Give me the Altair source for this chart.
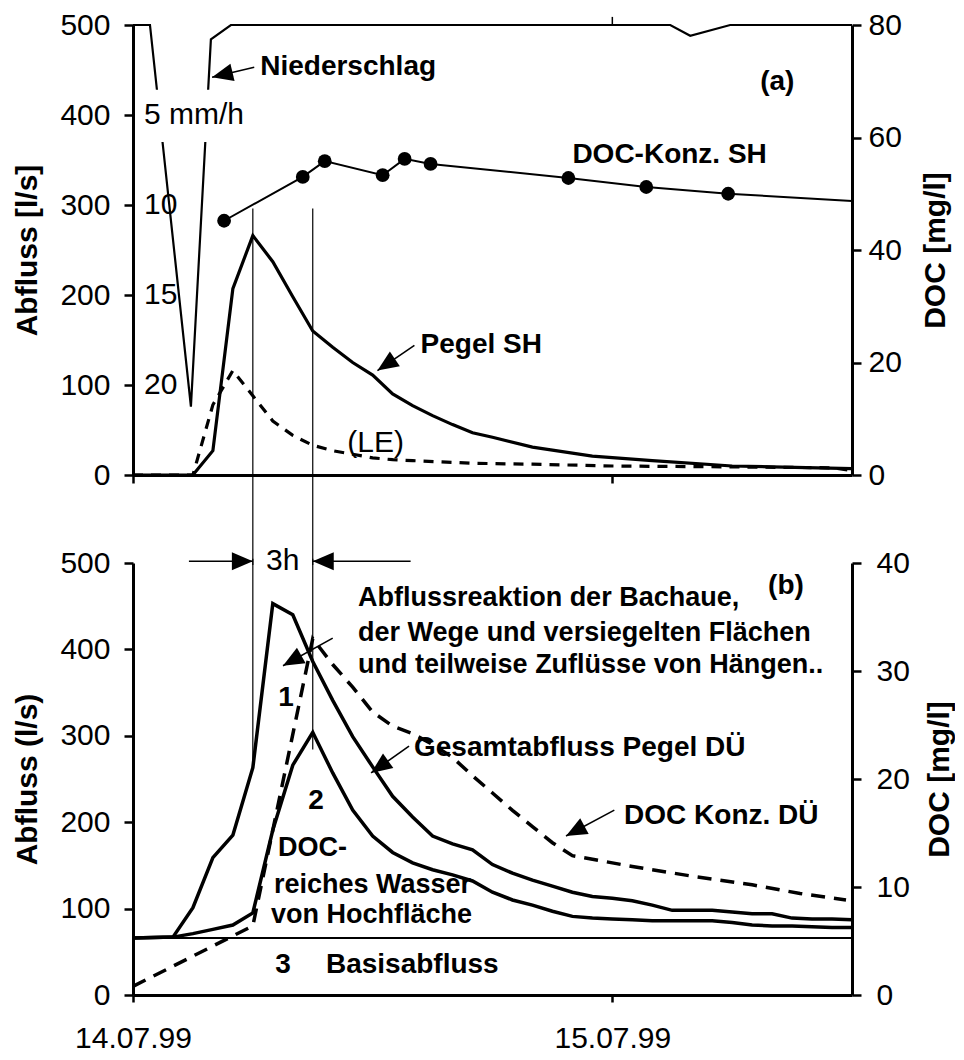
import altair as alt
import pandas as pd

BASE = pd.Timestamp("1999-07-14 00:00:00")


def to_time(hours):
    return [BASE + pd.Timedelta(hours=float(h)) for h in hours]


FONT = "Liberation Sans"

# ---------------- panel (a) data ----------------
pegel_sh_h = [0, 3, 4, 5, 6, 7, 8, 9, 10, 11, 12, 13, 14, 15, 16, 17, 18, 20, 23, 26, 30, 32, 36]
pegel_sh_v = [0, 0, 27, 207, 266, 237, 198, 160, 142, 125, 111, 90, 77, 66, 56, 47, 42, 31, 21, 16, 10, 9, 7]

le_h = [0, 3, 4, 5, 6, 7, 8, 9, 10, 11, 12, 13, 14, 17, 20, 24, 30, 35, 36]
le_v = [0, 0, 78, 116, 88, 60, 44, 33, 27, 23, 19, 17, 16, 13, 12, 10, 9, 8, 5]

doc_sh_h = [4.56, 8.5, 9.6, 12.5, 13.6, 14.9, 21.8, 25.7, 29.8, 36]
doc_sh_v = [45.2, 53.0, 55.8, 53.3, 56.2, 55.3, 52.8, 51.2, 50.0, 48.7]
doc_sh_marker = [True, True, True, True, True, True, True, True, True, False]

precip_h = [0, 0.85, 2.9, 3.9, 4.9, 26.9, 27.9, 29.9, 36]
precip_v = [0, 0, 21.2, 0.8, 0, 0, 0.6, 0, 0]
precip_ticks = [5, 10, 15, 20]
precip_tick_labels = ["5 mm/h", "10", "15", "20"]
precip_top_tick_h = [24]

a_bold_labels = ["Niederschlag", "Pegel SH", "DOC-Konz. SH", "(a)"]
a_bold_h = [6.37, 14.4, 22.0, 31.4]
a_bold_v = [453, 144, 356, 437]
a_plain_labels = ["(LE)"]
a_plain_h = [10.73]
a_plain_v = [36]

a_arrow_tail_h = [6.07, 14.09]
a_arrow_tail_v = [453, 144]
a_arrow_tip_h = [3.96, 12.24]
a_arrow_tip_v = [442, 116]
a_arrow_angle = [256.6, 236]

vline_h = [6, 9]
vline_a_top = [296, 296]
vline_a_bottom = [-100, -100]
vline_b_top = [505, 505]
vline_b_bottom = [268, 284]

# ---------------- panel (b) data ----------------
ges_h = [0, 2, 3, 4, 5, 6, 7, 8, 9, 10, 11, 12, 13, 14, 15, 16, 17, 18, 19, 20, 21, 22, 23, 24,
         25, 26, 27, 28, 29, 30, 31, 32, 33, 34, 35, 36]
ges_v = [66, 67, 101, 159, 185, 263, 453, 440, 386, 341, 299, 264, 230, 206, 184, 175, 168, 151, 141, 133, 126, 119,
         114, 112, 109, 104, 98, 98, 98, 96, 94, 94, 89, 88, 88, 87]

hoch_h = [0, 2, 3, 4, 5, 6, 7, 8, 9, 10, 11, 12, 13, 14, 15, 16, 17, 18, 19, 20, 21, 22, 23, 24,
          25, 26, 27, 28, 29, 30, 31, 32, 33, 34, 35, 36]
hoch_v = [66, 67, 71, 76, 81, 95, 191, 266, 304, 257, 214, 184, 165, 153, 145, 139, 132, 119, 110, 104, 97, 91,
          89, 88, 87, 86, 86, 86, 86, 84, 81, 80, 80, 79, 78, 78]

basis_h = [0, 36]
basis_v = [66, 66]

doc_du_h = [0, 6, 9, 10, 11, 12, 13, 14, 15, 16, 17, 18, 19, 20, 21, 22, 25, 28, 31, 33.4, 35.7]
doc_du_v = [0.8, 6.4, 33.0, 30.6, 28.5, 26.2, 24.9, 24.2, 23.2, 22.0, 20.3, 18.7, 17.1, 15.6, 14.1, 12.9, 11.9,
            11.0, 10.2, 9.4, 8.8]

b_bold_labels = ["(b)", "Gesamtabfluss Pegel DÜ", "Basisabfluss", "DOC Konz. DÜ"]
b_bold_h = [31.8, 14.07, 9.66, 24.59]
b_bold_v = [473, 286, 35, 207]

b_note_labels = ["Abflussreaktion der Bachaue,", "der Wege und versiegelten Flächen",
                 "und teilweise Zuflüsse von Hängen..", "DOC-", "reiches Wasser", "von Hochfläche"]
b_note_h = [11.27, 11.27, 11.27, 7.26, 7.06, 6.91]
b_note_v = [459.5, 419, 382, 170, 127, 92.6]

b_num_labels = ["1", "2", "3"]
b_num_h = [7.66, 9.16, 7.51]
b_num_v = [344, 225, 35]

b_plain_labels = ["3h"]
b_plain_h = [7.5]
b_plain_v = [502]

b_arrow_tail_h = [10.0, 13.82, 24.1, 2.8, 13.9]
b_arrow_tail_v = [413, 288, 214, 502, 502]
b_arrow_tip_h = [7.51, 11.92, 21.68, 6.0, 9.0]
b_arrow_tip_v = [381, 257, 184, 502, 502]
b_arrow_angle = [240.8, 234.6, 241.6, 90, 270]

# ---------------- scales / axes ----------------
x_domain = [alt.DateTime(year=1999, month=7, date=14, hours=0),
            alt.DateTime(year=1999, month=7, date=15, hours=12)]
x_ticks = [alt.DateTime(year=1999, month=7, date=14), alt.DateTime(year=1999, month=7, date=15)]
x_scale = alt.Scale(domain=x_domain)

xa_axis = alt.Axis(values=x_ticks, labels=False, tickSize=8, title=None)
xb_axis = alt.Axis(values=x_ticks, format="%d.%m.%y", tickSize=7, labelPadding=21, title=None,
                   labelFlush=False)

ya_scale = alt.Scale(domain=[0, 500])
ya_axis = alt.Axis(values=[0, 100, 200, 300, 400, 500], orient="left", title="Abfluss [l/s]",
                   tickSize=9, labelPadding=14, titlePadding=17)
ra_scale = alt.Scale(domain=[0, 80])
ra_axis = alt.Axis(values=[0, 20, 40, 60, 80], orient="right", title="DOC [mg/l]", titleAngle=270,
                   tickSize=9, labelPadding=7, titlePadding=49)
p_scale = alt.Scale(domain=[0, 25], reverse=True)

yb_scale = alt.Scale(domain=[0, 500])
yb_axis = alt.Axis(values=[0, 100, 200, 300, 400, 500], orient="left", title="Abfluss (l/s)",
                   tickSize=9, labelPadding=14, titlePadding=17)
rb_scale = alt.Scale(domain=[0, 40])
rb_axis = alt.Axis(values=[0, 10, 20, 30, 40], orient="right", title="DOC [mg/l]", titleAngle=270,
                   tickSize=9, labelPadding=15, titlePadding=45)

ARROW_SHAPE = "M0,0L-0.85,2L0.85,2Z"


def X(field, axis):
    return alt.X(f"{field}:T", scale=x_scale, axis=axis)


def Y(field, scale, axis):
    return alt.Y(f"{field}:Q", scale=scale, axis=axis)


def line_layer(h, v, xaxis, yscale, yaxis, width, dash=None):
    df = pd.DataFrame({"t": to_time(h), "v": v})
    kw = dict(color="black", strokeWidth=width, interpolate="linear")
    if dash is not None:
        kw["strokeDash"] = dash
    return alt.Chart(df).mark_line(**kw).encode(x=X("t", xaxis), y=Y("v", yscale, yaxis))


def text_layer(labels, h, v, xaxis, yscale, yaxis, size, weight="bold", align="left"):
    df = pd.DataFrame({"t": to_time(h), "v": v, "label": labels})
    return alt.Chart(df).mark_text(align=align, baseline="middle", font=FONT, fontSize=size,
                                   fontWeight=weight, color="black").encode(
        x=X("t", xaxis), y=Y("v", yscale, yaxis), text=alt.Text("label:N"))


def arrow_layers(th, tv, ph, pv, ang, xaxis, yscale, yaxis):
    df = pd.DataFrame({"t": to_time(th), "v": tv, "t2": to_time(ph), "v2": pv, "ang": ang})
    ln = alt.Chart(df).mark_rule(color="black", strokeWidth=1.6).encode(
        x=X("t", xaxis), x2=alt.X2("t2"), y=Y("v", yscale, yaxis), y2=alt.Y2("v2"))
    hd = alt.Chart(df).mark_point(shape=ARROW_SHAPE, filled=True, size=440, color="black",
                                  opacity=1, strokeWidth=0).encode(
        x=X("t2", xaxis), y=Y("v2", yscale, yaxis), angle=alt.Angle("ang:Q", scale=None))
    return [ln, hd]


def vline_layer(top, bottom, xaxis, yscale, yaxis):
    df = pd.DataFrame({"t": to_time(vline_h), "v": top, "v2": bottom})
    return alt.Chart(df).mark_rule(color="black", strokeWidth=1.2).encode(
        x=X("t", xaxis), y=Y("v", yscale, yaxis), y2=alt.Y2("v2"))


# ---------------- panel (a) ----------------
a_left = alt.layer(
    vline_layer(vline_a_top, vline_a_bottom, xa_axis, ya_scale, ya_axis),
    line_layer(le_h, le_v, xa_axis, ya_scale, ya_axis, 3.2, dash=[10, 8]),
    line_layer(pegel_sh_h, pegel_sh_v, xa_axis, ya_scale, ya_axis, 3.2),
    *arrow_layers(a_arrow_tail_h, a_arrow_tail_v, a_arrow_tip_h, a_arrow_tip_v, a_arrow_angle,
                  xa_axis, ya_scale, ya_axis),
    text_layer(a_bold_labels, a_bold_h, a_bold_v, xa_axis, ya_scale, ya_axis, 28),
    text_layer(a_plain_labels, a_plain_h, a_plain_v, xa_axis, ya_scale, ya_axis, 30, weight="normal"),
)

df_doc_sh = pd.DataFrame({"t": to_time(doc_sh_h), "v": doc_sh_v, "m": doc_sh_marker})
a_right = alt.layer(
    alt.Chart(df_doc_sh).mark_line(color="black", strokeWidth=2).encode(
        x=X("t", xa_axis), y=Y("v", ra_scale, ra_axis)),
    alt.Chart(df_doc_sh).transform_filter("datum.m").mark_circle(size=190, color="black", opacity=1).encode(
        x=X("t", xa_axis), y=Y("v", ra_scale, ra_axis)),
)

df_precip = pd.DataFrame({"t": to_time(precip_h), "p": precip_v})
df_precip_lab = pd.DataFrame({"p": precip_ticks, "label": precip_tick_labels})
df_precip_box = pd.DataFrame({"p": [precip_ticks[0] - 1.4], "p2": [precip_ticks[0] + 1.5]})
df_precip_tick = pd.DataFrame({"t": to_time(precip_top_tick_h), "p": [0], "p2": [-0.45]})
a_precip = alt.layer(
    alt.Chart(df_precip).mark_line(color="black", strokeWidth=2.2).encode(
        x=X("t", xa_axis), y=alt.Y("p:Q", scale=p_scale, axis=None)),
    alt.Chart(df_precip_tick).mark_rule(color="black", strokeWidth=1.5).encode(
        x=X("t", xa_axis), y=alt.Y("p:Q", scale=p_scale, axis=None), y2=alt.Y2("p2")),
    alt.Chart(df_precip_box).mark_rect(color="white", opacity=1).encode(
        x=alt.value(9), x2=alt.value(120), y=alt.Y("p:Q", scale=p_scale, axis=None), y2=alt.Y2("p2")),
    alt.Chart(df_precip_lab).mark_text(align="left", baseline="middle", font=FONT, fontSize=30,
                                       color="black").encode(
        x=alt.value(11), y=alt.Y("p:Q", scale=p_scale, axis=None), text=alt.Text("label:N")),
)

panel_a = alt.layer(a_left, a_right, a_precip).resolve_scale(y="independent").properties(width=719, height=450)

# ---------------- panel (b) ----------------
b_left = alt.layer(
    vline_layer(vline_b_top, vline_b_bottom, xb_axis, yb_scale, yb_axis),
    line_layer(basis_h, basis_v, xb_axis, yb_scale, yb_axis, 2),
    line_layer(hoch_h, hoch_v, xb_axis, yb_scale, yb_axis, 3.5),
    line_layer(ges_h, ges_v, xb_axis, yb_scale, yb_axis, 3.5),
    *arrow_layers(b_arrow_tail_h, b_arrow_tail_v, b_arrow_tip_h, b_arrow_tip_v, b_arrow_angle,
                  xb_axis, yb_scale, yb_axis),
    text_layer(b_bold_labels, b_bold_h, b_bold_v, xb_axis, yb_scale, yb_axis, 28),
    text_layer(b_note_labels, b_note_h, b_note_v, xb_axis, yb_scale, yb_axis, 27),
    text_layer(b_num_labels, b_num_h, b_num_v, xb_axis, yb_scale, yb_axis, 28, align="center"),
    text_layer(b_plain_labels, b_plain_h, b_plain_v, xb_axis, yb_scale, yb_axis, 30, weight="normal",
               align="center"),
)
b_right = line_layer(doc_du_h, doc_du_v, xb_axis, rb_scale, rb_axis, 3.5, dash=[14, 9])

panel_b = alt.layer(b_left, b_right).resolve_scale(y="independent").properties(width=719, height=432)

chart = alt.vconcat(panel_a, panel_b, spacing=88, bounds="flush").properties(
    padding={"left": 4, "top": 2, "right": 0, "bottom": 0}
).configure_axis(
    domainColor="black", domainWidth=3, tickColor="black", tickWidth=2.5, labelColor="black",
    labelFont=FONT, labelFontSize=30, titleFont=FONT, titleFontSize=30, titleFontWeight="bold",
    titleColor="black", grid=False
).configure_view(strokeWidth=0).configure_text(font=FONT)

chart.save("out.html", embed_options={"renderer": "svg", "actions": False})
